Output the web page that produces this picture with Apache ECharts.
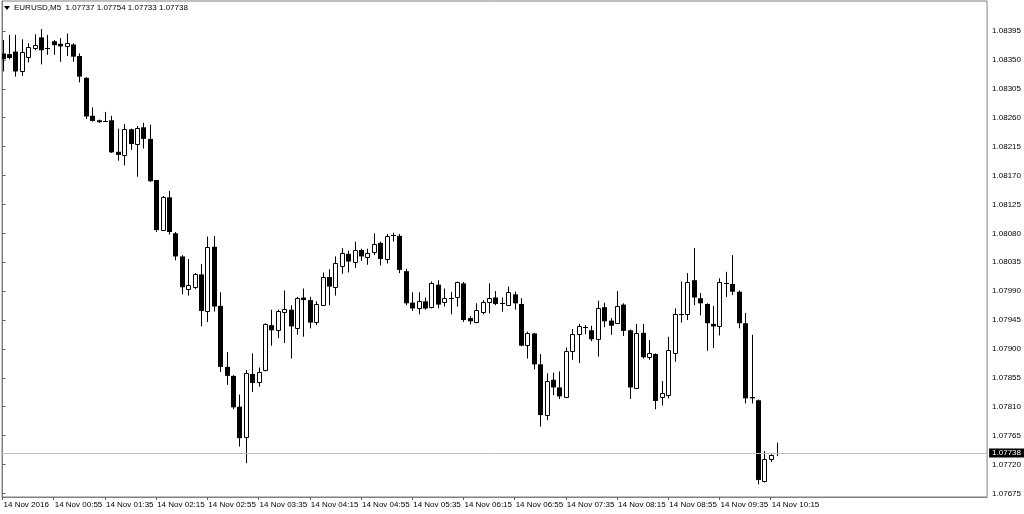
<!DOCTYPE html>
<html>
<head>
<meta charset="utf-8">
<script src="https://cdn.jsdelivr.net/npm/echarts@6/dist/echarts.min.js"></script>
<style>
html,body{margin:0;padding:0;background:#fff;}
#chart{width:1024px;height:514px;}
</style>
</head>
<body>
<div id="chart"></div>
<script>
// ---- data (EURUSD M5, 14 Nov 2016, bars from 00:15) ----
const symbolName = "EURUSD,M5";
const openP = [
1.08360,1.08359,1.08363,1.08333,1.08355,1.08369,1.08385,1.08368,1.08379,1.08375,
1.08371,1.08374,1.08356,1.08322,1.08263,1.08256,1.08255,1.08256,1.08207,1.08202,
1.08242,1.08219,1.08245,1.08227,1.08163,1.08085,1.08136,1.08080,1.08044,1.07993,
1.07997,1.08016,1.07959,1.08059,1.07967,1.07872,1.07858,1.07810,1.07762,1.07861,
1.07848,1.07866,1.07937,1.07929,1.07958,1.07961,1.07933,1.07980,1.07976,1.07942,
1.07968,1.08012,1.07996,1.08029,1.08048,1.08036,1.08054,1.08044,1.08050,1.08065,
1.08040,1.08076,1.08076,1.08021,1.07972,1.07963,1.07974,1.07966,1.08000,1.07973,
1.07980,1.07980,1.08002,1.07948,1.07943,1.07958,1.07973,1.07980,1.07971,1.07968,
1.07985,1.07970,1.07905,1.07924,1.07876,1.07797,1.07852,1.07840,1.07826,1.07897,
1.07923,1.07934,1.07929,1.07915,1.07965,1.07944,1.07940,1.07969,1.07929,1.07840,
1.07925,1.07886,1.07892,1.07824,1.07829,1.07894,1.07954,1.07954,1.08007,1.07979,
1.07970,1.07939,1.07935,1.08003,1.08001,1.07989,1.07940,1.07825,1.07820,1.07693,
1.07728,1.07737
];
const closeP = [
1.08351,1.08353,1.08332,1.08362,1.08370,1.08373,1.08365,1.08367,1.08373,1.08371,
1.08376,1.08355,1.08324,1.08262,1.08255,1.08253,1.08255,1.08206,1.08202,1.08242,
1.08219,1.08244,1.08227,1.08161,1.08085,1.08136,1.08082,1.08044,1.07996,1.08000,
1.08017,1.07959,1.08059,1.07966,1.07872,1.07858,1.07809,1.07761,1.07862,1.07847,
1.07864,1.07938,1.07929,1.07959,1.07962,1.07935,1.07980,1.07976,1.07941,1.07970,
1.08012,1.07997,1.08033,1.08049,1.08036,1.08054,1.08044,1.08050,1.08063,1.08040,
1.08076,1.08077,1.08023,1.07971,1.07963,1.07974,1.07963,1.08003,1.07969,1.07980,
1.07979,1.08004,1.07945,1.07943,1.07961,1.07973,1.07979,1.07970,1.07971,1.07989,
1.07971,1.07905,1.07924,1.07876,1.07797,1.07850,1.07840,1.07826,1.07897,1.07923,
1.07936,1.07934,1.07915,1.07963,1.07943,1.07936,1.07967,1.07928,1.07840,1.07925,
1.07887,1.07893,1.07819,1.07831,1.07899,1.07954,1.07955,1.08004,1.07980,1.07971,
1.07940,1.07935,1.08004,1.08003,1.07989,1.07940,1.07823,1.07823,1.07696,1.07728,
1.07735,1.07738
];
const highP = [
1.08381,1.08389,1.08389,1.08382,1.08376,1.08390,1.08398,1.08389,1.08381,1.08384,
1.08391,1.08376,1.08360,1.08323,1.08276,1.08257,1.08269,1.08263,1.08243,1.08250,
1.08243,1.08247,1.08252,1.08249,1.08163,1.08138,1.08146,1.08082,1.08046,1.08040,
1.08018,1.08032,1.08075,1.08076,1.07988,1.07895,1.07859,1.07829,1.07867,1.07893,
1.07871,1.07940,1.07961,1.07961,1.07991,1.07968,1.07981,1.07994,1.07981,1.07974,
1.08019,1.08024,1.08044,1.08057,1.08053,1.08067,1.08056,1.08056,1.08080,1.08067,
1.08079,1.08081,1.08079,1.08025,1.07988,1.07988,1.07980,1.08005,1.08007,1.07994,
1.07989,1.08005,1.08004,1.07951,1.07971,1.07976,1.08002,1.07990,1.07980,1.07997,
1.07989,1.07979,1.07927,1.07925,1.07892,1.07862,1.07863,1.07865,1.07902,1.07931,
1.07939,1.07937,1.07936,1.07975,1.07972,1.07948,1.07990,1.07971,1.07930,1.07939,
1.07939,1.07914,1.07893,1.07850,1.07919,1.07963,1.08005,1.08018,1.08057,1.07987,
1.07971,1.07967,1.08010,1.08020,1.08046,1.07991,1.07956,1.07922,1.07821,1.07741,
1.07736,1.07754
];
const lowP = [
1.08332,1.08351,1.08324,1.08325,1.08346,1.08365,1.08343,1.08358,1.08358,1.08347,
1.08356,1.08347,1.08315,1.08258,1.08254,1.08252,1.08254,1.08205,1.08193,1.08186,
1.08210,1.08168,1.08212,1.08160,1.08082,1.08084,1.08078,1.08038,1.07985,1.07983,
1.07993,1.07935,1.07942,1.07958,1.07864,1.07844,1.07806,1.07748,1.07722,1.07833,
1.07841,1.07865,1.07905,1.07917,1.07909,1.07885,1.07922,1.07919,1.07932,1.07937,
1.07967,1.07968,1.07983,1.08017,1.08019,1.08026,1.08037,1.08031,1.08046,1.08030,
1.08033,1.08067,1.08018,1.07968,1.07959,1.07954,1.07961,1.07963,1.07963,1.07966,
1.07954,1.07966,1.07942,1.07938,1.07940,1.07954,1.07955,1.07968,1.07958,1.07967,
1.07961,1.07904,1.07885,1.07868,1.07779,1.07789,1.07828,1.07822,1.07825,1.07883,
1.07878,1.07923,1.07912,1.07888,1.07934,1.07922,1.07939,1.07920,1.07822,1.07839,
1.07885,1.07883,1.07806,1.07812,1.07823,1.07880,1.07941,1.07945,1.07968,1.07952,
1.07897,1.07901,1.07921,1.07981,1.07984,1.07932,1.07815,1.07815,1.07689,1.07692,
1.07724,1.07733
];
// time-axis ticks: bar index and label
const timeTickIndex = [0,8,16,24,32,40,48,56,64,72,80,88,96,104,112,120];
const timeTickLabels = ["14 Nov 2016","14 Nov 00:55","14 Nov 01:35","14 Nov 02:15","14 Nov 02:55",
  "14 Nov 03:35","14 Nov 04:15","14 Nov 04:55","14 Nov 05:35","14 Nov 06:15","14 Nov 06:55",
  "14 Nov 07:35","14 Nov 08:15","14 Nov 08:55","14 Nov 09:35","14 Nov 10:15"];
const priceTicks = [1.07675,1.07720,1.07765,1.07810,1.07855,1.07900,1.07945,1.07990,1.08035,
  1.08080,1.08125,1.08170,1.08215,1.08260,1.08305,1.08350,1.08395];
// view range
const xMin = -0.08, xMax = 153.8;
const yMin = 1.076694, yMax = 1.084417;

// ---- build ----
const FONT = "'Liberation Sans',Arial,sans-serif";
const bars = openP.map((o, i) => [i, o, closeP[i], lowP[i], highP[i]]);
const last = bars.length - 1;
const labelMap = {};
timeTickIndex.forEach((v, k) => labelMap[v] = timeTickLabels[k]);

function renderItem(params, api) {
  const x = api.value(0), o = api.value(1), c = api.value(2), l = api.value(3), h = api.value(4);
  const po = api.coord([x, o]), pc = api.coord([x, c]);
  const pl = api.coord([x, l]), ph = api.coord([x, h]);
  const cx = Math.round(po[0]) + 0.5;
  const w = 4;
  const top = Math.min(po[1], pc[1]), bot = Math.max(po[1], pc[1]);
  const children = [{
    type: 'line',
    shape: {x1: cx, y1: ph[1], x2: cx, y2: pl[1]},
    style: {stroke: '#000', lineWidth: 1}
  }];
  if (bot - top < 1.2) {
    children.push({
      type: 'line',
      shape: {x1: cx - 2.5, y1: Math.round(top) + 0.5, x2: cx + 2.5, y2: Math.round(top) + 0.5},
      style: {stroke: '#000', lineWidth: 1}
    });
  } else if (c > o) {
    children.push({
      type: 'rect',
      shape: {x: cx - 2, y: Math.round(top) + 0.5, width: w, height: Math.max(1, Math.round(bot - top))},
      style: {fill: '#fff', stroke: '#000', lineWidth: 1}
    });
  } else {
    children.push({
      type: 'rect',
      shape: {x: cx - 2.5, y: top, width: w + 1, height: bot - top},
      style: {fill: '#000'}
    });
  }
  return {type: 'group', children: children};
}

const chart = echarts.init(document.getElementById('chart'), null, {renderer: 'canvas'});
chart.setOption({
  animation: false,
  backgroundColor: '#fff',
  textStyle: {fontFamily: FONT},
  title: {
    text: symbolName + '  ' + [openP[last], highP[last], lowP[last], closeP[last]].map(v => v.toFixed(5)).join(' '),
    left: 14, top: 4, padding: 0,
    textStyle: {fontSize: 8, fontWeight: 'normal', color: '#000', fontFamily: FONT}
  },
  graphic: [{
    type: 'polygon', shape: {points: [[4, 6], [10, 6], [7, 10]]}, style: {fill: '#000'}
  }],
  grid: {left: 2, right: 35, top: 1, bottom: 17, show: true, borderColor: '#808080', borderWidth: 1, backgroundColor: '#fff'},
  xAxis: {
    type: 'value', min: xMin, max: xMax,
    axisLine: {show: true, lineStyle: {color: '#808080'}},
    axisTick: {show: true, customValues: timeTickIndex, length: 3, lineStyle: {color: '#606060'}},
    axisLabel: {
      customValues: timeTickIndex, formatter: v => labelMap[v] || '',
      align: 'left', margin: 4, padding: [0, 0, 0, 1], hideOverlap: false,
      fontSize: 8, color: '#000', fontFamily: FONT, showMinLabel: true, showMaxLabel: true
    },
    splitLine: {show: false}
  },
  yAxis: {
    type: 'value', position: 'right', min: yMin, max: yMax, scale: true,
    axisLine: {show: true, lineStyle: {color: '#808080'}},
    axisTick: {show: true, customValues: priceTicks, length: 3, lineStyle: {color: '#606060'}},
    axisLabel: {
      customValues: priceTicks, formatter: v => v.toFixed(5), hideOverlap: false,
      margin: 5, fontSize: 8, color: '#000', fontFamily: FONT
    },
    splitLine: {show: false}
  },
  series: [{
    type: 'custom',
    renderItem: renderItem,
    clip: true,
    encode: {x: 0, y: [1, 2, 3, 4]},
    data: bars,
    markLine: {
      silent: true, symbol: ['none', 'none'], animation: false, precision: 5,
      lineStyle: {color: '#c0c0c0', type: 'solid', width: 1},
      label: {
        show: true, position: 'end', distance: 2,
        formatter: p => Number(p.value).toFixed(5),
        backgroundColor: '#000', color: '#fff', padding: [1, 3, 0, 3],
        fontSize: 8, fontFamily: FONT
      },
      data: [{yAxis: closeP[last]}]
    },
    z: 3
  }]
});
</script>
</body>
</html>
